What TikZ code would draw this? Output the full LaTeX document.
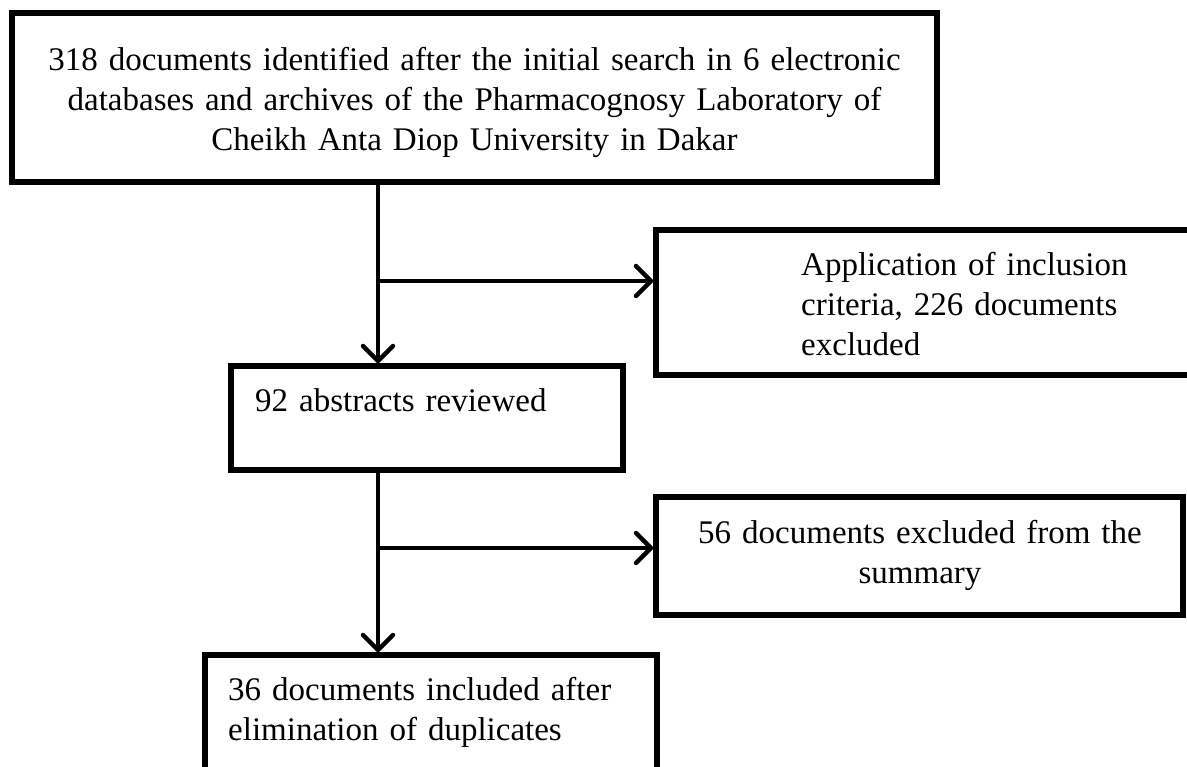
\documentclass[tikz,border=0pt]{standalone}
\usepackage{fontspec}
\setmainfont{Liberation Serif}
\usetikzlibrary{positioning,arrows.meta}

\begin{document}
\begin{tikzpicture}[x=1pt,y=-1pt,
        box/.style={draw,line width=5.5pt,inner sep=0pt},
        txt/.style={inner sep=0pt,text width=#1,font=\fontsize{33}{40}\selectfont},
        flow/.style={line width=4.5pt,-{Straight Barb[length=15pt,width=30pt,round]}}]
        \useasboundingbox (0,0) rectangle (1187,767);
        \clip (0,0) rectangle (1187,767);

        \draw (474.5,97.5) node[box,minimum width=925pt,minimum height=169pt] (search) {};

        \draw (930.5,302.5) node[box,minimum width=549pt,minimum height=145pt] (excl1) {};

        \draw (427,418) node[box,minimum width=392pt,minimum height=104pt] (review) {};

        \draw (919.5,556) node[box,minimum width=527pt,minimum height=118pt] (excl2) {};

        \draw (431,727.5) node[box,minimum width=452pt,minimum height=145pt] (incl) {};

        \draw (474.5,71) node[txt=925pt,align=center,anchor=base] (searchtxt)
        {318 documents identified after the initial search in 6 electronic\\
        databases and archives of the Pharmacognosy Laboratory of\\
        Cheikh Anta Diop University in Dakar};

        \draw (801,276) node[txt=370pt,align=left,anchor=base west] (excl1txt)
        {Application of inclusion\\ criteria, 226 documents\\ excluded};

        \draw (255,412) node[txt=340pt,align=left,anchor=base west] (reviewtxt)
        {92 abstracts reviewed};

        \draw (920,543) node[txt=500pt,align=center,anchor=base] (excl2txt)
        {56 documents excluded from the\\ summary};

        \draw (228,700) node[txt=420pt,align=left,anchor=base west] (incltxt)
        {36 documents included after\\ elimination of duplicates};

        \coordinate (j1) at (378,281);

        \coordinate (j2) at (378,548);

        \draw[flow] (search.south -| j1) -- (review.north -| j1);

        \draw[flow] (j1) -- (excl1.west |- j1);

        \draw[flow] (review.south -| j2) -- (incl.north -| j2);

        \draw[flow] (j2) -- (excl2.west |- j2);
      \end{tikzpicture}
\end{document}
